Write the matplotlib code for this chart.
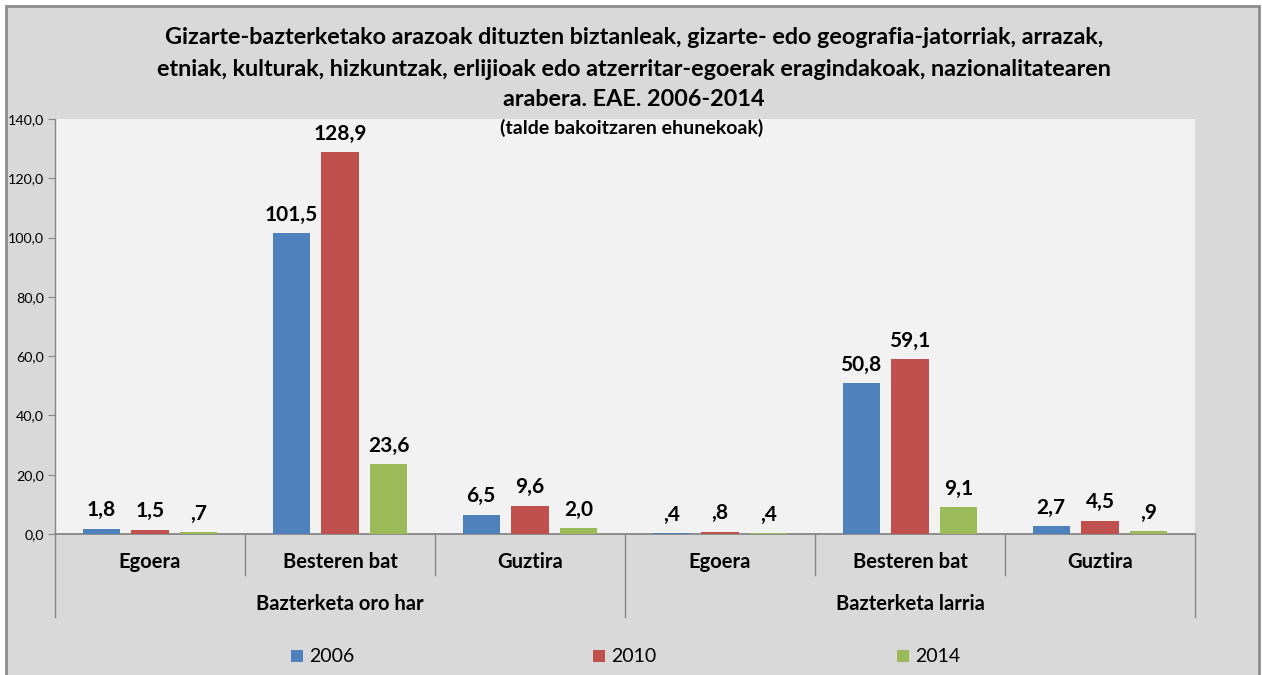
import numpy as np
import matplotlib.pyplot as plt
from matplotlib.patches import Rectangle
from matplotlib.transforms import blended_transform_factory

plt.rcParams['font.family'] = ['Lato', 'DejaVu Sans']

# data
groups = ["Bazterketa oro har", "Bazterketa larria"]
subcats = ["Egoera", "Besteren bat", "Guztira"]
years = ["2006", "2010", "2014"]
v2006 = [1.8, 101.5, 6.5, 0.4, 50.8, 2.7]
v2010 = [1.5, 128.9, 9.6, 0.8, 59.1, 4.5]
v2014 = [0.7, 23.6, 2.0, 0.4, 9.1, 0.9]
colors = ["#4f81bd", "#c0504d", "#9bbb59"]

title_lines = [
    "Gizarte-bazterketako arazoak dituzten biztanleak, gizarte- edo geografia-jatorriak, arrazak,",
    "etniak, kulturak, hizkuntzak, erlijioak edo atzerritar-egoerak eragindakoak, nazionalitatearen",
    "arabera. EAE. 2006-2014",
]
subtitle = "(talde bakoitzaren ehunekoak)"


def fmt(v):
    s = "{:.1f}".format(v).replace(".", ",")
    if s.startswith("0,") and v != 0:
        s = s[1:]
    return s


W, H = 1262, 675
fig = plt.figure(figsize=(W / 100, H / 100), dpi=100, facecolor="white")

# chart frame
fig.patches.append(Rectangle((6 / W, -0.05), 1253 / W, 1 - 6 / H + 0.05,
                             transform=fig.transFigure, facecolor="#d9d9d9",
                             edgecolor="#8c8c8c", linewidth=2, zorder=-10))

ax = fig.add_axes([55 / W, 1 - 534 / H, 1140 / W, 415 / H])
ax.set_facecolor("#f2f2f2")

n = len(v2006)
x = np.arange(n)
step = 0.257
width = 0.195
series = [v2006, v2010, v2014]
for k, (vals, c) in enumerate(zip(series, colors)):
    xs = x + (k - 1) * step
    ax.bar(xs, vals, width=width, color=c, edgecolor="none", zorder=2)
    for xi, v in zip(xs, vals):
        ax.annotate(fmt(v), (xi, v), xytext=(0, 6), textcoords="offset points",
                    ha="center", va="bottom", fontsize=15, fontweight="bold",
                    color="black")

ax.set_xlim(-0.5, n - 0.5)
ax.set_ylim(0, 140)
yt = np.arange(0, 141, 20)
ax.set_yticks(yt)
ax.set_yticklabels([fmt(t) if t else "0,0" for t in yt], fontsize=10.3)
ax.set_xticks([])
ax.tick_params(axis="y", length=5, color="#868686", pad=3)
for s in ["top", "right"]:
    ax.spines[s].set_visible(False)
ax.spines["left"].set_color("#868686")
ax.spines["bottom"].set_color("#868686")
ax.spines["left"].set_linewidth(1)
ax.spines["bottom"].set_linewidth(1.3)
ax.spines["bottom"].set_zorder(1)

# two-level category axis
tr = blended_transform_factory(ax.transData, ax.transAxes)
row1 = (534 - 562) / 415
row2 = (534 - 604) / 415
cut1 = (534 - 575) / 415
cut2 = (534 - 617) / 415
for i in range(n):
    ax.text(i, row1, subcats[i % 3], transform=tr, ha="center", va="center",
            fontsize=14.5, fontweight="bold", clip_on=False)
for g, name in enumerate(groups):
    ax.text(g * 3 + 1, row2, name, transform=tr, ha="center", va="center",
            fontsize=14.5, fontweight="bold", clip_on=False)
for b in np.arange(-0.5, n, 1.0):
    bottom = cut2 if (b + 0.5) % 3 == 0 else cut1
    ax.plot([b, b], [0, bottom], transform=tr, color="#868686", lw=1,
            clip_on=False)

# titles
ys = [38, 70, 99]
for line, yp in zip(title_lines, ys):
    fig.text(634 / W, 1 - yp / H, line, ha="center", va="center",
             fontsize=16.8, fontweight="bold")
fig.text(632 / W, 1 - 128 / H, subtitle, ha="center", va="center",
         fontsize=14, fontweight="bold")

# legend
for lx, lab, c in zip([291, 593, 897], years, colors):
    fig.patches.append(Rectangle((lx / W, 1 - 662 / H), 12 / W, 12 / H,
                                 transform=fig.transFigure, facecolor=c,
                                 edgecolor="none"))
    fig.text((lx + 18) / W, 1 - 656 / H, lab, ha="left", va="center", fontsize=14)

fig.savefig("out.png", dpi=100, facecolor=fig.get_facecolor())
